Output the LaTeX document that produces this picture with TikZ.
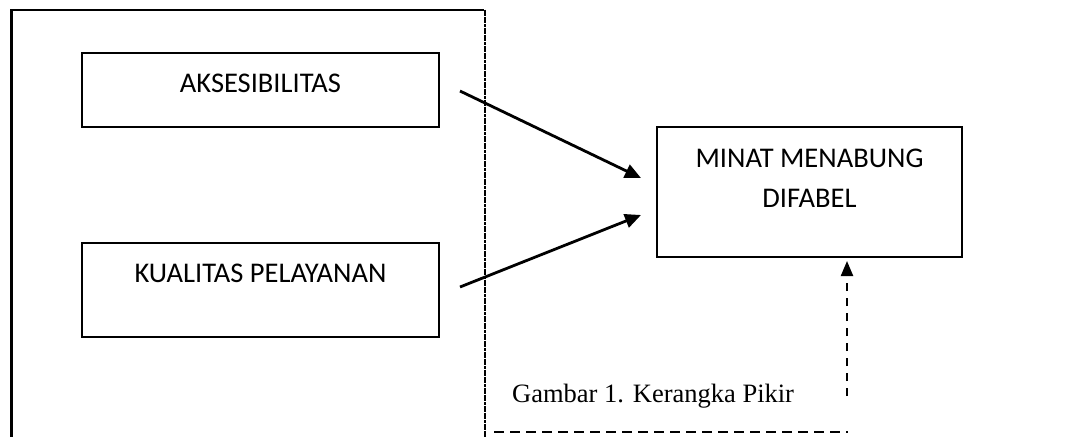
\documentclass[tikz,border=0pt]{standalone}
\usepackage{fontspec}
\setmainfont{Liberation Serif}
\newfontfamily\boxfont{Carlito}
\usetikzlibrary{arrows.meta,calc}
\begin{document}
\begin{tikzpicture}[x=1pt,y=-1pt,
  box/.style={draw,line width=2pt,inner sep=0pt},
  lbl/.style={font=\boxfont\fontsize{28.5}{32}\selectfont,inner sep=0pt,anchor=base},
  arr/.style={line width=2.8pt,-{Triangle[length=16pt,width=14pt]}},
  darr/.style={line width=2.2pt,dash pattern=on 8pt off 7pt,-{Triangle[length=15pt,width=12pt]}}]
\useasboundingbox (0,0) rectangle (1071,437);
% frame
\draw[line width=3.5pt] (11.5,10) -- (11.5,437);
\draw[line width=2pt] (10,10) -- (484,10);
\draw[line width=1.6pt,dash pattern=on 3pt off 0.6pt] (485,9.5) -- (485,437);
\draw[line width=2.4pt,dash pattern=on 10pt off 6pt] (494,432) -- (848,432);
% boxes
\node[box,minimum width=357pt,minimum height=74pt] (ak) at (260.5,90) {};
\node[box,minimum width=357pt,minimum height=94pt] (kp) at (260.5,290) {};
\node[box,minimum width=305pt,minimum height=130pt] (mm) at (809.5,192) {};
\node[lbl] (akt) at (260.5,92) {AKSESIBILITAS};
\node[lbl] (kpt) at (260.5,282) {KUALITAS PELAYANAN};
\node[lbl] (mmt1) at (809.5,167) {MINAT MENABUNG};
\node[lbl] (mmt2) at (809.5,207) {DIFABEL};
% caption
\node[font=\fontsize{26.5}{30}\selectfont,inner sep=0pt,anchor=base west] (cap) at (512,402) {Gambar 1. Kerangka Pikir};
% connectors
\coordinate (a1) at ($(ak.east)+(20,1)$);
\coordinate (a2) at ($(kp.east)+(20,-3)$);
\coordinate (t1) at (641,178);
\coordinate (t2) at (641,215);
\coordinate (d0) at (847,396);
\coordinate (d1) at (847,261);
\draw[arr] (a1) -- (t1);
\draw[arr] (a2) -- (t2);
\draw[darr] (d0) -- (d1);
\end{tikzpicture}
\end{document}
